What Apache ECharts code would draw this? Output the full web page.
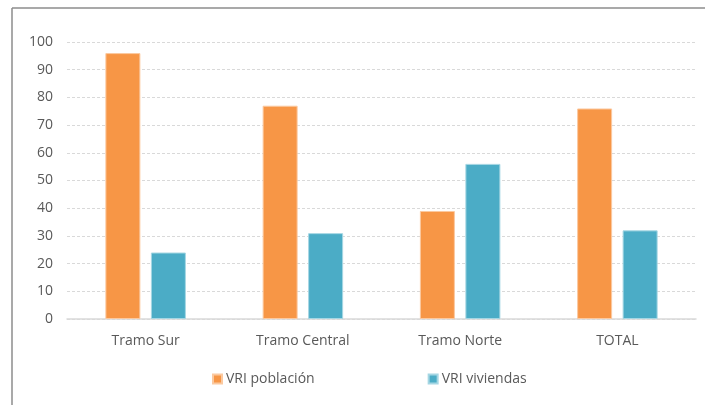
<!DOCTYPE html>
<html><head><meta charset="utf-8">
<script src="https://cdn.jsdelivr.net/npm/echarts@6/dist/echarts.min.js"></script>
<style>html,body{margin:0;padding:0;background:#fff}#c{width:705px;height:405px}</style>
</head><body><div id="c"></div>
<script>
const categories = ['Tramo Sur', 'Tramo Central', 'Tramo Norte', 'TOTAL'];
const poblacion = [96, 77, 39, 76];
const viviendas = [24, 31, 56, 32];
const seriesNames = ['VRI población', 'VRI viviendas'];

const chart = echarts.init(document.getElementById('c'), null, {renderer: 'canvas'});
const font = '"Open Sans", "Noto Sans", sans-serif';
chart.setOption({
  animation: false,
  backgroundColor: '#fff',
  graphic: [
    {type: 'line', shape: {x1: 12, y1: 8, x2: 705, y2: 8}, style: {stroke: '#8c8c8c', lineWidth: 1.5}},
    {type: 'line', shape: {x1: 12, y1: 8, x2: 12, y2: 405}, style: {stroke: '#8c8c8c', lineWidth: 1.5}}
  ],
  grid: {left: 67, right: 9, top: 42, bottom: 86},
  legend: {
    data: seriesNames,
    top: 367, left: 207,
    itemWidth: 9, itemHeight: 9, itemGap: 113,
    icon: 'rect',
    textStyle: {color: '#595959', fontSize: 14, fontFamily: font, padding: [0,0,0,-1]}
  },
  xAxis: {
    type: 'category', data: categories,
    axisLine: {lineStyle: {color: '#d9d9d9', width: 1.5}},
    axisTick: {show: false},
    axisLabel: {color: '#595959', fontSize: 14, fontFamily: font, margin: 15}
  },
  yAxis: {
    type: 'value', min: 0, max: 100, interval: 10,
    axisLine: {show: false}, axisTick: {show: false},
    splitLine: {lineStyle: {color: '#d9d9d9', type: [3, 2]}},
    axisLabel: {color: '#595959', fontSize: 14, fontFamily: font, margin: 14}
  },
  series: [
    {name: seriesNames[0], type: 'bar', data: poblacion, barWidth: 35, barGap: '30%',
     itemStyle: {color: '#F79646', borderColor: '#fbc9a0', borderWidth: 1}},
    {name: seriesNames[1], type: 'bar', data: viviendas, barWidth: 35, barGap: '30%',
     itemStyle: {color: '#4BACC6', borderColor: '#a5d6e3', borderWidth: 1}}
  ]
});
</script></body></html>
